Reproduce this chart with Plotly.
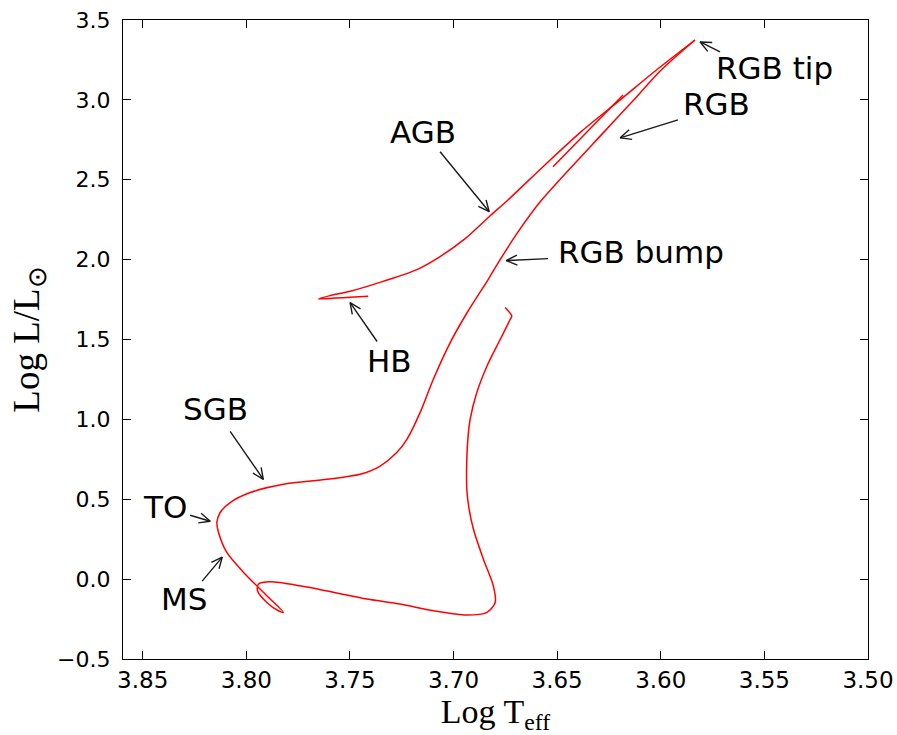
import plotly.graph_objects as go

# ---------------- data ----------------
# Pre-main-sequence + main sequence + subgiant + red giant branch
track_logT = [3.6751, 3.6719, 3.6727, 3.6775, 3.6839, 3.6888, 3.6920, 3.6931, 3.6937,
              3.6936, 3.6925, 3.6904, 3.6856, 3.6808, 3.6799, 3.6839, 3.6936, 3.7097,
              3.7258, 3.7418, 3.7740, 3.7885, 3.7941, 3.7946, 3.7901, 3.7845, 3.7821,
              3.7901, 3.8013, 3.8094, 3.8134, 3.8142, 3.8126, 3.8078, 3.7981, 3.7821,
              3.7611, 3.7451, 3.7354, 3.7274, 3.7225, 3.7161, 3.7098, 3.7016, 3.6934,
              3.6833, 3.6790, 3.6688, 3.6582, 3.6269, 3.6134, 3.6003, 3.5835]
track_logL = [1.700, 1.646, 1.625, 1.500, 1.333, 1.167, 1.000, 0.875, 0.6875,
              0.5625, 0.4375, 0.3125, 0.125, -0.042, -0.146, -0.208, -0.225, -0.198,
              -0.156, -0.125, -0.042, -0.017, -0.031, -0.073, -0.146, -0.198, -0.208,
              -0.104, 0.042, 0.167, 0.292, 0.354, 0.417, 0.479, 0.542, 0.594,
              0.625, 0.656, 0.708, 0.792, 0.875, 1.044, 1.250, 1.481, 1.669,
              1.875, 1.969, 2.175, 2.3625, 2.806, 2.994, 3.181, 3.375]

# Horizontal branch + asymptotic giant branch
agb_logT = [3.7412, 3.7499, 3.7571, 3.7652, 3.7595, 3.7499, 3.7340, 3.7177, 3.7065,
            3.6944, 3.6823, 3.6741, 3.6558, 3.6380, 3.6196, 3.6027, 3.5835]
agb_logL = [1.771, 1.764, 1.759, 1.754, 1.775, 1.802, 1.864, 1.9375, 2.019,
            2.131, 2.275, 2.369, 2.594, 2.806, 3.000, 3.181, 3.375]

# short segment between AGB and RGB
seg_logT = [3.6520, 3.6182]
seg_logL = [2.581, 3.031]

# annotations: label, text centre, arrow tail, arrow head
labels = ["RGB tip", "RGB", "AGB", "RGB bump", "HB", "SGB", "TO", "MS"]
text_x = [3.5453, 3.5733, 3.7147, 3.6095, 3.7311, 3.8150, 3.8391, 3.8300]
text_y = [3.200, 2.975, 2.800, 2.050, 1.3625, 1.0625, 0.450, -0.125]
tail_x = [3.5714, 3.5917, 3.7065, 3.6544, 3.7369, 3.8078, 3.8271, 3.8213]
tail_y = [3.300, 2.875, 2.675, 2.006, 1.4875, 0.925, 0.400, -0.0125]
head_x = [3.5810, 3.6196, 3.6828, 3.6746, 3.7499, 3.7918, 3.8174, 3.8116]
head_y = [3.3625, 2.7625, 2.300, 1.994, 1.731, 0.625, 0.3625, 0.1375]

x_ticks = [3.85, 3.80, 3.75, 3.70, 3.65, 3.60, 3.55, 3.50]
y_ticks = [-0.5, 0.0, 0.5, 1.0, 1.5, 2.0, 2.5, 3.0, 3.5]

# ---------------- layout geometry ----------------
W, H = 897, 735
ML, MR, MT, MB = 123, 29, 20, 76
X_RANGE = [3.8595, 3.50]
Y_RANGE = [-0.5, 3.5]
PW, PH = W - ML - MR, H - MT - MB


def to_px(x, y):
    px = (X_RANGE[0] - x) / (X_RANGE[0] - X_RANGE[1]) * PW
    py = (Y_RANGE[1] - y) / (Y_RANGE[1] - Y_RANGE[0]) * PH
    return px, py


def to_data(px, py):
    x = X_RANGE[0] - px / PW * (X_RANGE[0] - X_RANGE[1])
    y = Y_RANGE[1] - py / PH * (Y_RANGE[1] - Y_RANGE[0])
    return x, y


# build arrow polylines (shaft + open "->" head)
HL, HW = 11.0, 5.0
arr_x, arr_y = [], []
for tx, ty, hx, hy in zip(tail_x, tail_y, head_x, head_y):
    tpx, tpy = to_px(tx, ty)
    hpx, hpy = to_px(hx, hy)
    dx, dy = hpx - tpx, hpy - tpy
    n = (dx * dx + dy * dy) ** 0.5
    ux, uy = dx / n, dy / n
    nx, ny = -uy, ux
    a1 = to_data(hpx - ux * HL + nx * HW, hpy - uy * HL + ny * HW)
    a2 = to_data(hpx - ux * HL - nx * HW, hpy - uy * HL - ny * HW)
    arr_x += [tx, hx, None, a1[0], hx, a2[0], None]
    arr_y += [ty, hy, None, a1[1], hy, a2[1], None]

fig = go.Figure()
line_style = dict(color="#ff0000", width=1.5, shape="spline", smoothing=0.8)
fig.add_trace(go.Scatter(x=track_logT, y=track_logL, mode="lines", line=line_style,
                         hoverinfo="skip", showlegend=False))
fig.add_trace(go.Scatter(x=agb_logT, y=agb_logL, mode="lines", line=line_style,
                         hoverinfo="skip", showlegend=False))
fig.add_trace(go.Scatter(x=seg_logT, y=seg_logL, mode="lines",
                         line=dict(color="#ff0000", width=1.5),
                         hoverinfo="skip", showlegend=False))
fig.add_trace(go.Scatter(x=arr_x, y=arr_y, mode="lines",
                         line=dict(color="#1a1a1a", width=1.4),
                         hoverinfo="skip", showlegend=False))

for lab, x, y in zip(labels, text_x, text_y):
    fig.add_annotation(x=x, y=y, text=lab, showarrow=False,
                       font=dict(family="DejaVu Sans", size=31, color="black"),
                       xanchor="center", yanchor="middle")

axis_common = dict(showline=True, linecolor="black", linewidth=1.2, mirror="ticks",
                   ticks="inside", ticklen=8, tickwidth=1.1, tickcolor="black",
                   showgrid=False, zeroline=False)

fig.update_xaxes(range=X_RANGE, tickvals=x_ticks, tickformat=".2f",
                 ticklabelstandoff=0,
                 tickfont=dict(family="DejaVu Sans", size=23, color="black"),
                 title=dict(text="Log T<sub>eff</sub>", standoff=6,
                            font=dict(family="Liberation Serif", size=34, color="black")),
                 **axis_common)
fig.update_yaxes(range=Y_RANGE, tickvals=y_ticks, tickformat=".1f",
                 ticklabelstandoff=7,
                 tickfont=dict(family="DejaVu Sans", size=22, color="black"),
                 title=dict(text="Log L/L<sub><span style='font-size:26px'>⊙</span></sub>",
                            standoff=6,
                            font=dict(family="Liberation Serif", size=37, color="black")),
                 **axis_common)

fig.update_layout(width=W, height=H,
                  margin=dict(l=ML, r=MR, t=MT, b=MB, autoexpand=False),
                  plot_bgcolor="white", paper_bgcolor="white")

fig.write_html("out.html")
